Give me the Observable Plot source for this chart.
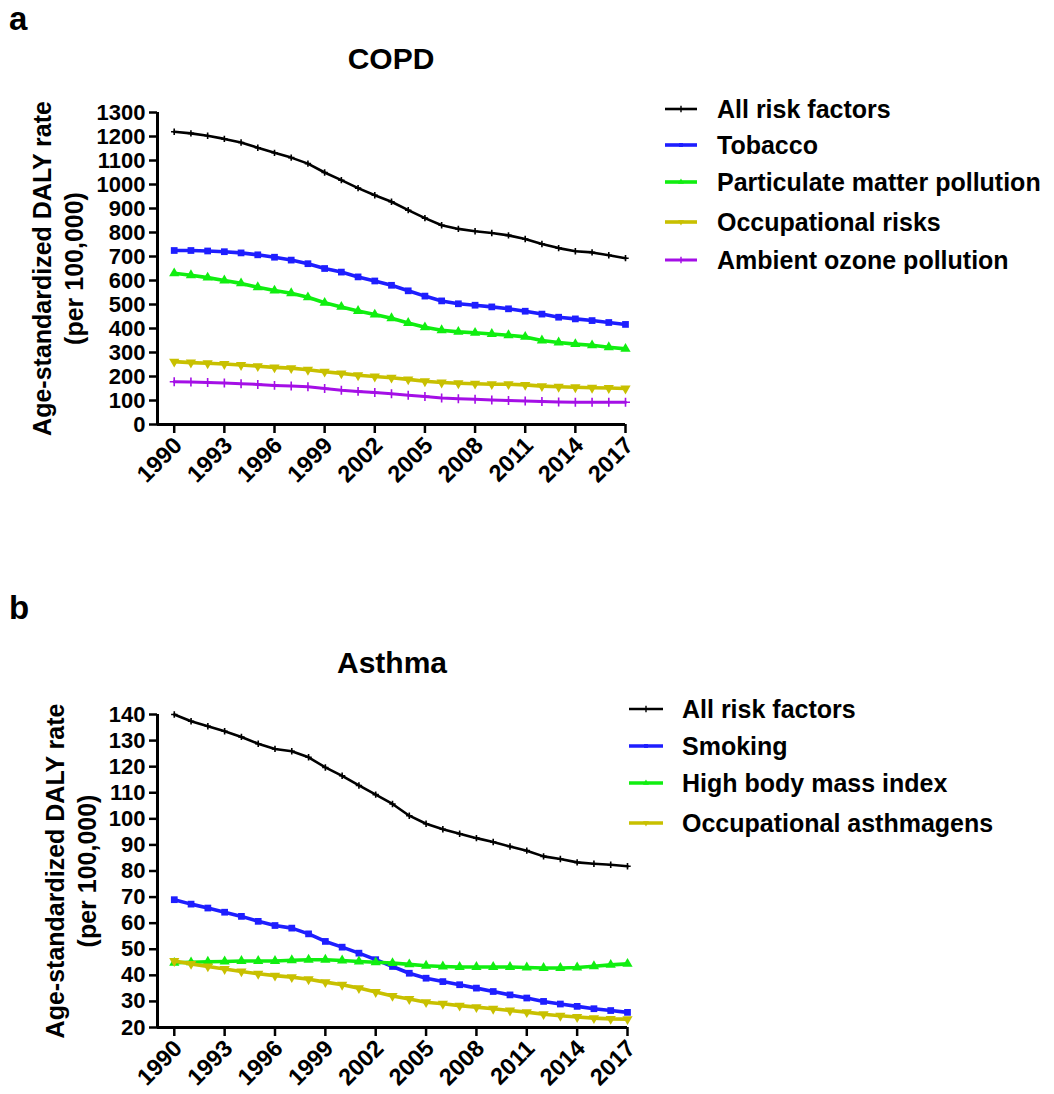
<!DOCTYPE html>
<html><head><meta charset="utf-8">
<script src="https://cdn.jsdelivr.net/npm/d3@7"></script>
<script src="https://cdn.jsdelivr.net/npm/@observablehq/plot@0.6"></script>
<style>
body{margin:0;background:#fff;font-family:"Liberation Sans",Arial,sans-serif;}
#root{position:relative;width:1054px;height:1094px;overflow:hidden;background:#fff}
.abs{position:absolute;font-weight:bold;color:#000;white-space:nowrap;line-height:1}
.lrow{position:absolute;display:flex;align-items:center;height:30px;font-size:25px;font-weight:bold;color:#000;white-space:nowrap}
.lrow svg{flex:none}
.panel{position:absolute;left:0}
</style></head><body><div id="root"></div><script>
// ---------- data ----------
const years = [1990,1991,1992,1993,1994,1995,1996,1997,1998,1999,2000,2001,2002,2003,2004,2005,2006,2007,2008,2009,2010,2011,2012,2013,2014,2015,2016,2017];
const xTicks = [1990,1993,1996,1999,2002,2005,2008,2011,2014,2017];

// COPD (panel a)
const copdAll = [1220,1213,1203,1190,1175,1153,1132,1112,1087,1050,1018,985,955,928,893,860,830,815,805,798,788,773,752,735,722,717,705,693];
const copdTobacco = [725,725,723,720,715,707,697,685,670,650,635,615,598,580,557,535,515,503,497,490,482,472,460,447,440,433,425,417];
const copdPM = [630,622,612,600,588,572,558,547,530,507,490,473,458,443,423,405,393,386,382,377,372,365,350,342,335,330,322,315];
const copdOcc = [262,258,255,252,248,243,238,235,228,220,213,205,200,195,188,180,175,172,170,168,168,165,160,157,155,153,152,150];
const copdOzone = [178,177,175,173,170,167,163,160,157,150,143,138,133,128,122,117,110,107,105,102,100,98,96,94,93,93,93,93];
const copdNames = ["All risk factors","Tobacco","Particulate matter pollution","Occupational risks","Ambient ozone pollution"];
const copdTicks = [0,100,200,300,400,500,600,700,800,900,1000,1100,1200,1300];

// Asthma (panel b)
const asthmaAll = [140,137.4,135.5,133.6,131.4,128.8,126.8,125.9,123.6,119.7,116.5,112.8,109.3,105.7,101.2,98.1,96,94.3,92.6,91.1,89.4,87.8,85.6,84.6,83.3,82.8,82.4,81.8];
const asthmaSmoking = [69,67.3,65.8,64.2,62.6,60.7,59.1,58.1,55.9,53,50.8,48.5,46,43.4,40.8,38.9,37.6,36.4,35.1,33.8,32.5,31.3,30,29,28.1,27.2,26.5,25.8];
const asthmaBMI = [44.8,45,45.2,45.3,45.5,45.5,45.5,45.8,46,46,45.7,45.3,45,44.7,44.2,43.7,43.4,43.2,43.2,43.2,43.2,43,42.8,42.8,43,43.5,44,44.4];
const asthmaOcc = [45.5,44.4,43.4,42.4,41.5,40.6,39.9,39.3,38.5,37.4,36.4,35.1,33.6,32.1,30.9,29.7,29.1,28.4,27.8,27.2,26.5,25.9,25.1,24.5,24,23.6,23.3,23.2];
const asthmaNames = ["All risk factors","Smoking","High body mass index","Occupational asthmagens"];
const asthmaTicks = [20,30,40,50,60,70,80,90,100,110,120,130,140];

// ---------- styles ----------
const FONT = "Liberation Sans, Arial, sans-serif";
const triDown = {draw(ctx, size){const t=Math.sqrt(size/(3*Math.sqrt(3)));ctx.moveTo(0,2*t);ctx.lineTo(-Math.sqrt(3)*t,-t);ctx.lineTo(Math.sqrt(3)*t,-t);ctx.closePath();}};
const styles = [
  {color:"#000000", width:2.6, symbol:"plus", r:2.2, stroke:true},
  {color:"#1e1eff", width:3.6, symbol:"square", r:3.8, stroke:false},
  {color:"#10ee10", width:3.6, symbol:"triangle", r:3.8, stroke:false},
  {color:"#c8c000", width:3.6, symbol:triDown, r:3.8, stroke:false},
  {color:"#a40fe6", width:3, symbol:"plus", r:3, stroke:true}
];

const root = document.getElementById("root");

function makePanel({names, seriesValues, yDomain, yTicks, top, height, mTop, mBottom, mRight, labelDx}) {
  const marks = [];
  seriesValues.forEach((vals, i) => {
    const st = styles[i];
    const rows = years.map((y, j) => ({year: y, value: vals[j], series: names[i]}));
    marks.push(Plot.line(rows, {x:"year", y:"value", stroke: st.color, strokeWidth: st.width, strokeLinejoin:"round"}));
    marks.push(Plot.dot(rows, st.stroke
      ? {x:"year", y:"value", symbol: st.symbol, r: st.r, stroke: st.color, strokeWidth: 1.6, fill:"none"}
      : {x:"year", y:"value", symbol: st.symbol, r: st.r, fill: st.color, stroke:"none"}));
  });
  const svg = Plot.plot({
    width: 1054, height,
    marginLeft: 157, marginRight: mRight, marginTop: mTop, marginBottom: mBottom,
    style: {fontFamily: FONT, background:"white", overflow:"visible"},
    x: {domain:[1989, 2017], axis: null},
    y: {domain: yDomain, axis: null},
    marks: [
      Plot.axisY({ticks: yTicks, tickSize: 8, tickPadding: 4, fontSize: 22, fontWeight: "bold", strokeWidth: 2.5, fill:"black", label: null, tickFormat: d => String(d)}),
      // x tick marks only
      Plot.axisX({ticks: xTicks, tickSize: 9, strokeWidth: 2.5, label: null, tickFormat: () => ""}),
      // x tick labels, rotated
      Plot.axisX({ticks: xTicks, tickSize: 0, tickPadding: 17, tickRotate: -45, fontSize: 23.5, fontWeight: "bold", fill:"black", label: null, dx: 4, tickFormat: d => String(d)}),
      Plot.ruleX([1989], {stroke:"black", strokeWidth: 3}),
      Plot.ruleY([yDomain[0]], {stroke:"black", strokeWidth: 3}),
      Plot.text(["Age-standardized DALY rate\n(per 100,000)"], {frameAnchor:"left", rotate:-90, dx: labelDx, fontSize: 25, fontWeight:"bold", lineHeight: 1.3, textAnchor:"middle", fill:"black"}),
      ...marks
    ]
  });
  svg.classList.add("panel");
  svg.style.top = top + "px";
  root.appendChild(svg);
}

makePanel({names: copdNames, seriesValues:[copdAll, copdTobacco, copdPM, copdOcc, copdOzone], yDomain:[0,1300], yTicks: copdTicks, top:0, height:547, mTop:112, mBottom:123, mRight:429, labelDx:-101});
makePanel({names: asthmaNames, seriesValues:[asthmaAll, asthmaSmoking, asthmaBMI, asthmaOcc], yDomain:[20,140], yTicks: asthmaTicks, top:547, height:547, mTop:167, mBottom:67, mRight:427, labelDx:-88});

function addText(txt, x, top, fs, center) {
  const d = document.createElement("div");
  d.className = "abs";
  d.textContent = txt;
  d.style.fontSize = fs + "px";
  d.style.top = top + "px";
  if (center) { d.style.left = x + "px"; d.style.transform = "translateX(-50%)"; }
  else d.style.left = x + "px";
  root.appendChild(d);
}
addText("a", 9, 2, 33, false);
addText("b", 9, 591, 33, false);
addText("COPD", 391, 44, 30, true);
addText("Asthma", 392, 648, 30, true);

function addLegend(names, x0, lineW, gap, ys) {
  names.forEach((n, i) => {
    const st = styles[i];
    const row = document.createElement("div");
    row.className = "lrow";
    row.style.left = x0 + "px";
    row.style.top = (ys[i] - 15) + "px";
    const s = d3.create("svg").attr("width", lineW).attr("height", 14);
    s.append("line").attr("x1",0).attr("x2",lineW).attr("y1",7).attr("y2",7).attr("stroke", st.color).attr("stroke-width", st.width);
    const sym = d3.symbol(typeof st.symbol === "string" ? {plus:d3.symbolPlus, square:d3.symbolSquare, triangle:d3.symbolTriangle}[st.symbol] : st.symbol, Math.PI*2.2*2.2)();
    s.append("path").attr("d", sym).attr("transform", `translate(${lineW/2},7)`)
      .attr("fill", st.stroke ? "none" : st.color).attr("stroke", st.stroke ? st.color : "none").attr("stroke-width", 1.4);
    row.appendChild(s.node());
    const t = document.createElement("span");
    t.textContent = n;
    t.style.marginLeft = gap + "px";
    row.appendChild(t);
    root.appendChild(row);
  });
}
addLegend(copdNames, 665, 32, 20, [109, 145, 182, 222, 260]);
addLegend(asthmaNames, 629, 34, 19, [709, 746, 783, 823]);
</script></body></html>
